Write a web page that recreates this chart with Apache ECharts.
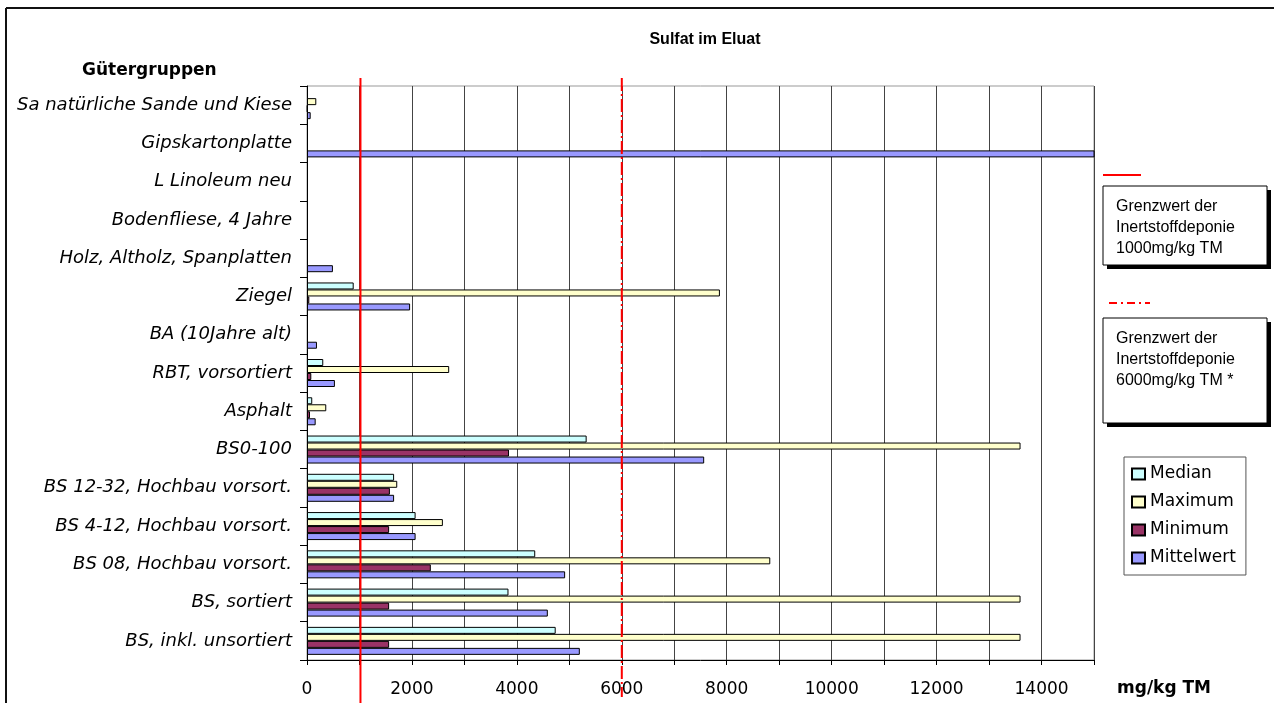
<!DOCTYPE html>
<html>
<head>
<meta charset="utf-8">
<script src="https://cdn.jsdelivr.net/npm/echarts@6/dist/echarts.min.js"></script>
<style>
html, body { margin: 0; padding: 0; background: #fff; }
#chart { width: 1274px; height: 703px; }
</style>
</head>
<body>
<div id="chart"></div>
<script>
// Gütergruppen, von oben nach unten
const categories = [
  'Sa natürliche Sande und Kiese',
  'Gipskartonplatte',
  'L Linoleum neu',
  'Bodenfliese, 4 Jahre',
  'Holz, Altholz, Spanplatten',
  'Ziegel',
  'BA (10Jahre alt)',
  'RBT, vorsortiert',
  'Asphalt',
  'BS0-100',
  'BS 12-32, Hochbau vorsort.',
  'BS 4-12, Hochbau vorsort.',
  'BS 08, Hochbau vorsort.',
  'BS, sortiert',
  'BS, inkl. unsortiert'
]
const median     = ['-', '-', '-', '-', '-', 890, '-', 310, 100, 5330, 1660, 2070, 4350, 3840, 4740]
const maximum    = [177, '-', '-', '-', '-', 7870, '-', 2710, 367, 13600, 1720, 2590, 8830, 13600, 13600]
const minimum    = [10, '-', '-', '-', '-', 44, '-', 82, 57, 3850, 1580, 1565, 2360, 1565, 1565]
const mittelwert = [70, 16500, '-', '-', 494, 1965, 190, 532, 165, 7570, 1660, 2070, 4920, 4590, 5200]

const xTicks = { min: 0, max: 15000, step: 1000, labelStep: 2000 }
const limitInert = 1000
const limitInertStar = 6000

const sans = 'DejaVu Sans'

function bar(name, data, color) {
  return {
    name: name,
    type: 'bar',
    data: data,
    barWidth: 7,
    barGap: '0%',
    itemStyle: { color: color, borderColor: '#000', borderWidth: 1 }
  }
}

// Textkasten mit hartem Schatten
function noteBox(x, y, w, h, text) {
  return [
    { type: 'rect', shape: { x: x + 4, y: y + 4, width: w, height: h }, style: { fill: '#000' } },
    { type: 'rect', shape: { x: x, y: y, width: w, height: h }, style: { fill: '#fff', stroke: '#000', lineWidth: 1 } },
    {
      type: 'text', x: x + 13, y: y + 10,
      style: { text: text, font: '16px "Liberation Sans"', lineHeight: 21, fill: '#000' }
    }
  ]
}

let ch = echarts.init(document.getElementById('chart'))
let option = {
  animation: false,
  title: {
    text: 'Sulfat im Eluat',
    left: 700,
    top: 27,
    textAlign: 'center',
    textStyle: { fontFamily: 'Liberation Sans', fontSize: 16, fontWeight: 'bold', color: '#000' }
  },
  legend: {
    orient: 'vertical',
    left: 1124,
    top: 457,
    icon: 'rect',
    itemWidth: 13,
    itemHeight: 11,
    itemGap: 8,
    padding: [7, 10, 7, 7],
    borderColor: '#555',
    borderWidth: 1,
    textStyle: { fontFamily: sans, fontSize: 17, color: '#000', lineHeight: 20 }
  },
  grid: {
    left: 307,
    right: 180,
    top: 86,
    bottom: 43,
    show: true,
    borderColor: '#999',
    borderWidth: 1
  },
  xAxis: {
    type: 'value',
    min: xTicks.min,
    max: xTicks.max,
    interval: xTicks.step,
    axisLine: { show: true, lineStyle: { color: '#000', width: 1 } },
    axisTick: { show: true, length: 5, lineStyle: { color: '#000' } },
    splitLine: { show: true, lineStyle: { color: '#444', width: 1 } },
    axisLabel: {
      margin: 21,
      fontFamily: sans,
      fontSize: 17,
      color: '#000',
      formatter: v => (v % xTicks.labelStep === 0 ? String(v) : '')
    }
  },
  yAxis: {
    type: 'category',
    inverse: true,
    data: categories,
    axisLine: { show: true, lineStyle: { color: '#000', width: 1 } },
    axisTick: { show: true, length: 7, lineStyle: { color: '#000' } },
    splitLine: { show: false },
    axisLabel: {
      margin: 15,
      fontFamily: sans,
      fontSize: 18,
      fontStyle: 'italic',
      color: '#000'
    }
  },
  series: [
    bar('Median', median, '#CCFFFF'),
    bar('Maximum', maximum, '#FFFFCC'),
    bar('Minimum', minimum, '#993366'),
    bar('Mittelwert', mittelwert, '#9999FF')
  ],
  graphic: [
    // Rahmen
    { type: 'line', shape: { x1: 6, y1: 8, x2: 1274, y2: 8 }, style: { stroke: '#111', lineWidth: 2 } },
    { type: 'line', shape: { x1: 6, y1: 8, x2: 6, y2: 703 }, style: { stroke: '#111', lineWidth: 2 } },
    {
      type: 'text', left: 82, top: 62,
      style: { text: 'Gütergruppen', font: 'bold 17px "DejaVu Sans"', fill: '#000' }
    },
    {
      type: 'text', left: 1117, top: 680,
      style: { text: 'mg/kg TM', font: 'bold 17px "DejaVu Sans"', fill: '#000' }
    },
    // Grenzwert-Erklärungen
    { type: 'line', shape: { x1: 1103, y1: 175, x2: 1141, y2: 175 }, style: { stroke: '#f00', lineWidth: 2 } },
    ...noteBox(1103, 186, 164, 79, 'Grenzwert der\nInertstoffdeponie\n1000mg/kg TM'),
    {
      type: 'line', shape: { x1: 1109, y1: 303, x2: 1150, y2: 303 },
      style: { stroke: '#f00', lineWidth: 2, lineDash: [8, 4, 2, 4] }
    },
    ...noteBox(1103, 318, 164, 105, 'Grenzwert der\nInertstoffdeponie\n6000mg/kg TM *')
  ]
}
ch.setOption(option)

// Grenzwertlinien, ueber die Achse hinaus gezogen
let xLow = ch.convertToPixel({ xAxisIndex: 0 }, limitInert)
let xHigh = ch.convertToPixel({ xAxisIndex: 0 }, limitInertStar)
option.graphic.push(
  { type: 'line', z: 100, shape: { x1: xLow + 1, y1: 78, x2: xLow + 1, y2: 703 }, style: { stroke: '#f00', lineWidth: 2 } },
  { type: 'line', z: 100, shape: { x1: xHigh, y1: 78, x2: xHigh, y2: 697 }, style: { stroke: '#f00', lineWidth: 2, lineDash: [13, 3, 2, 3] } }
)
ch.setOption({ graphic: option.graphic })
</script>
</body>
</html>
